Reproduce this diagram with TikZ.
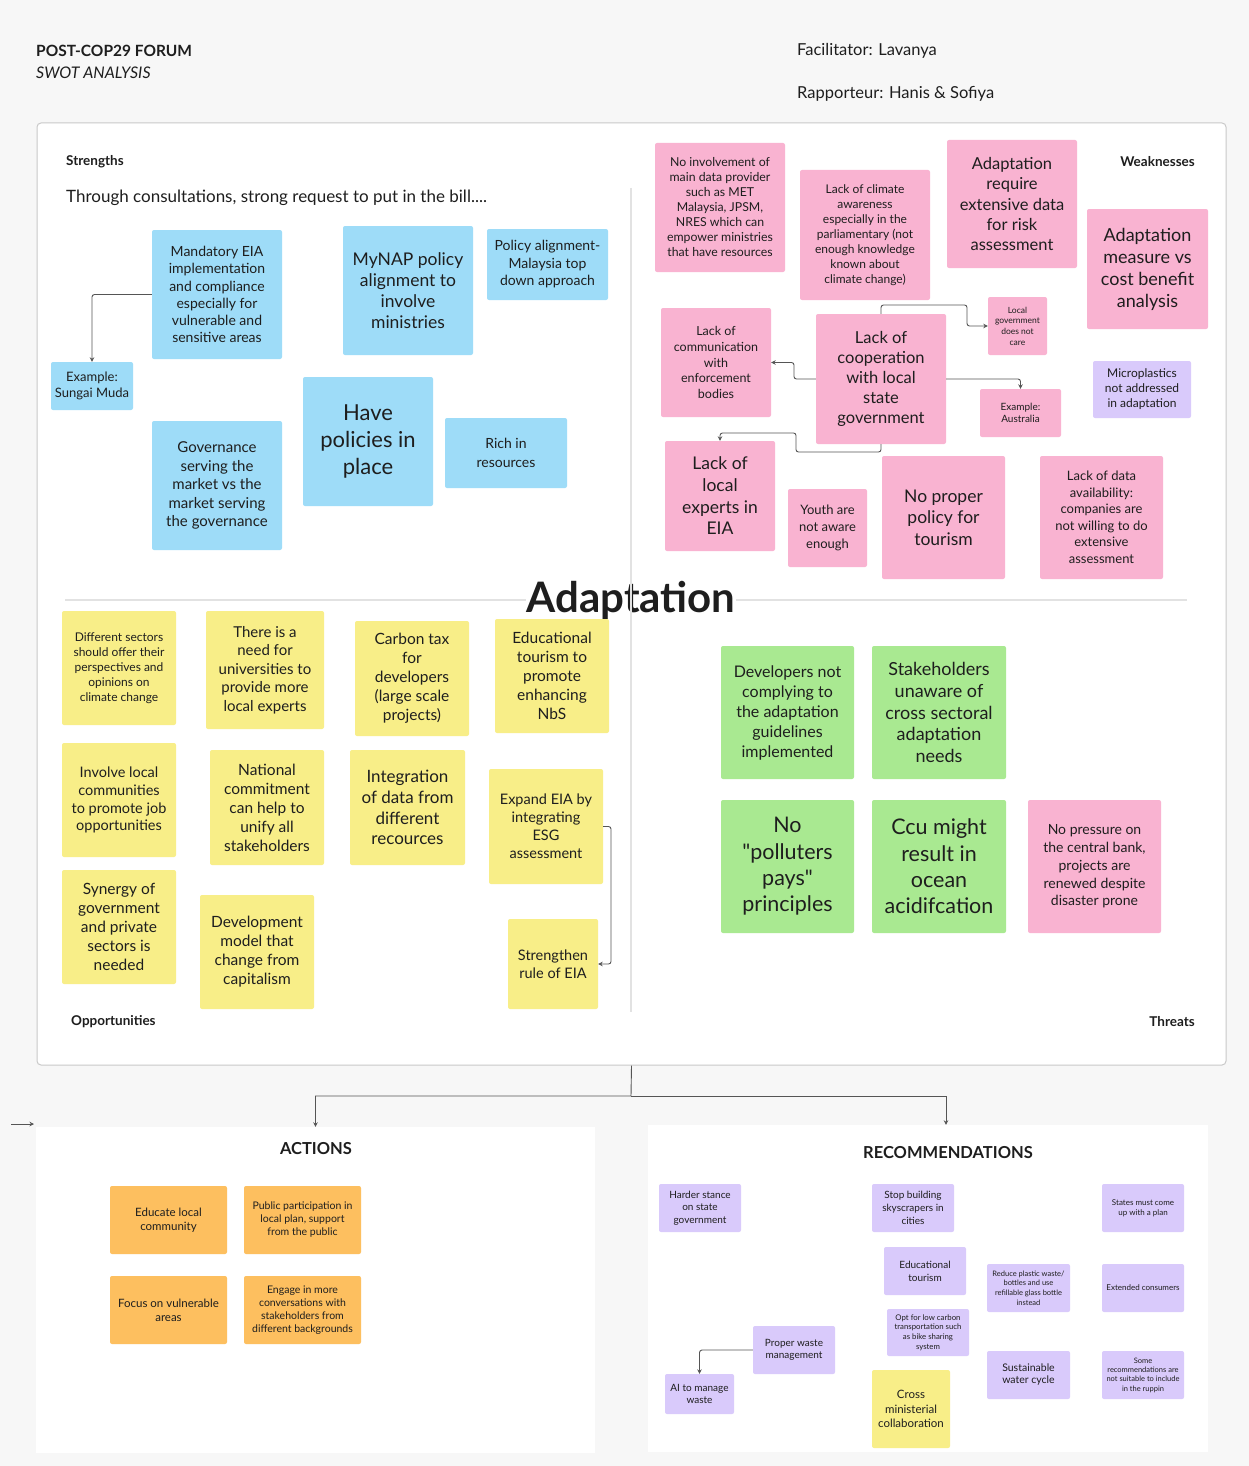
\documentclass[tikz,border=0pt]{standalone}
\usepackage{fontspec}
\setmainfont{Lato}
\newfontfamily\latoraw{Lato}
\usetikzlibrary{arrows.meta}
\definecolor{bgc}{HTML}{F7F7F7}
\definecolor{bluS}{HTML}{9EDCF8}
\definecolor{pnkS}{HTML}{F9B3D1}
\definecolor{yelS}{HTML}{F8EE88}
\definecolor{grnS}{HTML}{A9E991}
\definecolor{purS}{HTML}{D9CAFB}
\definecolor{orgS}{HTML}{FDBF5F}
\definecolor{txt}{HTML}{1E1E1E}
\definecolor{lnc}{HTML}{555555}
\definecolor{divc}{HTML}{E2E2E2}
\definecolor{frm}{HTML}{C9C9C9}
\newcommand\stk[9]{\node[stick,#2,minimum width={#5-#3},minimum height={#6-#4},font={\fontsize{#7}{#8}\selectfont}] (#1) at ({(#3+#5)/2},{(#4+#6)/2}) {#9};}
\tikzset{
  stick/.style={rectangle, rounded corners=2pt, inner sep=0pt, align=center, text=txt},
  blu/.style={fill=bluS},
  pnk/.style={fill=pnkS},
  yel/.style={fill=yelS},
  grn/.style={fill=grnS},
  pur/.style={fill=purS},
  org/.style={fill=orgS},
  panel/.style={fill=white, rounded corners=0pt},
  swotbox/.style={fill=white, draw=frm, line width=1pt, rounded corners=4pt},
  conn/.style={draw=lnc, line width=0.9pt, rounded corners=2.5pt, -{Stealth[length=4.5pt,width=4.5pt]}},
  divider/.style={draw=divc, line width=2pt},
  lbl/.style={inner sep=0pt, text=txt},
}
\begin{document}
\begin{tikzpicture}[x=1pt,y=-1pt]
\fill[bgc] (0,0) rectangle (1249,1466);
\useasboundingbox (0,0) rectangle (1249,1466);

% header
\node[lbl, anchor=west, font=\bfseries\fontsize{15.5}{18}\selectfont] (ttl) at (36,51) {POST-COP29 FORUM};
\node[lbl, anchor=west, font=\itshape\fontsize{16}{18}\selectfont] (sub) at (36,73) {SWOT ANALYSIS};
\node[lbl, anchor=west, font=\fontsize{16.5}{18}\selectfont] (fac) at (797,51) {Facilitator: Lavanya};
\node[lbl, anchor=west, font=\fontsize{16.5}{18}\selectfont] (rap) at (797,94) {Rapporteur: Hanis \& Sofiya};

% SWOT frame
\stk{swot}{swotbox}{37}{123}{1226}{1065}{10}{12}{}

% big title and dividers
\node[lbl, font=\bfseries\fontsize{42}{46}\selectfont] (adapt) at (631,600) {Adaptation};
\draw[divider] (631,188) -- (631,1012);
\draw[divider] (65,600) -- (adapt.west);
\draw[divider] (adapt.east) -- (1187,600);

% quadrant labels
\node[lbl, anchor=west, font=\bfseries\fontsize{13.5}{16}\selectfont] (lS) at (66,162) {Strengths};
\node[lbl, anchor=east, font=\bfseries\fontsize{13.5}{16}\selectfont] (lW) at (1195,162) {Weaknesses};
\node[lbl, anchor=west, font=\bfseries\fontsize{13.5}{16}\selectfont] (lO) at (71,1022) {Opportunities};
\node[lbl, anchor=east, font=\bfseries\fontsize{13.5}{16}\selectfont] (lT) at (1195,1022) {Threats};
\node[lbl, anchor=west, font=\fontsize{17}{20}\selectfont] (subS) at (66,198) {Through consultations, strong request to put in the bill....};

% Strengths
\stk{mand}{blu}{152}{230}{282}{359}{14}{17.2}{Mandatory EIA\\implementation\\and compliance\\especially for\\vulnerable and\\sensitive areas}
\stk{mynap}{blu}{343}{226}{473}{355}{17.5}{21}{MyNAP policy\\alignment to\\involve\\ministries}
\stk{palign}{blu}{487}{229}{608}{300}{14}{17.5}{Policy alignment-\\Malaysia top\\down approach}
\stk{exsm}{blu}{51}{362}{133}{410}{13}{15.7}{Example:\\Sungai Muda}
\stk{have}{blu}{303}{377}{433}{506}{22}{27}{Have\\policies in\\place}
\stk{rich}{blu}{445}{418}{567}{488}{14}{19}{Rich in\\resources}
\stk{gov}{blu}{152}{421}{282}{550}{15}{18.5}{Governance\\serving the\\market vs the\\market serving\\the governance}

% Weaknesses
\stk{noinv}{pnk}{655}{143}{785}{272}{12.3}{15}{No involvement of\\main data provider\\such as MET\\Malaysia, JPSM,\\NRES which can\\empower ministries\\that have resources}
\stk{lclim}{pnk}{800}{170}{930}{300}{12}{15.1}{Lack of climate\\awareness\\especially in the\\parliamentary (not\\enough knowledge\\known about\\climate change)}
\stk{adreq}{pnk}{947}{140}{1077}{268}{16.5}{20.3}{Adaptation\\require\\extensive data\\for risk\\assessment}
\stk{admeas}{pnk}{1087}{209}{1208}{329}{18}{22}{Adaptation\\measure vs\\cost benefit\\analysis}
\stk{lgov}{pnk}{988}{297}{1047}{355}{8.5}{10.7}{Local\\government\\does not\\care}
\stk{micro}{pur}{1093}{361}{1191}{418}{12}{15}{Microplastics\\not addressed\\in adaptation}
\stk{comm}{pnk}{661}{308}{771}{417}{12.5}{15.7}{Lack of\\communication\\with\\enforcement\\bodies}
\stk{coop}{pnk}{816}{314}{946}{444}{16.5}{20.2}{Lack of\\cooperation\\with local\\state\\government}
\stk{aus}{pnk}{980}{389}{1061}{437}{10}{12.7}{Example:\\Australia}
\stk{lexp}{pnk}{665}{441}{775}{551}{17.5}{21.7}{Lack of\\local\\experts in\\EIA}
\stk{youth}{pnk}{788}{489}{867}{567}{13}{16.7}{Youth are\\not aware\\enough}
\stk{tour}{pnk}{882}{456}{1005}{579}{17.5}{21.7}{No proper\\policy for\\tourism}
\stk{ldata}{pnk}{1040}{456}{1163}{579}{13}{16.5}{Lack of data\\availability:\\companies are\\not willing to do\\extensive\\assessment}

% Opportunities
\stk{diff}{yel}{62}{611}{176}{725}{12}{15}{Different sectors\\should offer their\\perspectives and\\opinions on\\climate change}
\stk{need}{yel}{206}{611}{324}{729}{15}{18.6}{There is a\\need for\\universities to\\provide more\\local experts}
\stk{ctax}{yel}{355}{621}{469}{736}{15.5}{19}{Carbon tax\\for\\developers\\(large scale\\projects)}
\stk{edut}{yel}{495}{619}{609}{733}{15.5}{19}{Educational\\tourism to\\promote\\enhancing\\NbS}
\stk{inv}{yel}{62}{743}{176}{857}{14.5}{17.9}{Involve local\\communities\\to promote job\\opportunities}
\stk{nat}{yel}{210}{750}{324}{865}{15.5}{19}{National\\commitment\\can help to\\unify all\\stakeholders}
\stk{integ}{yel}{350}{750}{465}{865}{17}{20.7}{Integration\\of data from\\different\\recources}
\stk{expand}{yel}{489}{769}{603}{884}{14.5}{18}{Expand EIA by\\integrating\\ESG\\assessment}
\stk{syn}{yel}{62}{870}{176}{984}{15.5}{19}{Synergy of\\government\\and private\\sectors is\\needed}
\stk{devm}{yel}{200}{895}{314}{1009}{15.5}{19}{Development\\model that\\change from\\capitalism}
\stk{stren}{yel}{508}{919}{598}{1009}{14.5}{17.7}{Strengthen\\rule of EIA}

% Threats
\stk{dev}{grn}{721}{646}{854}{779}{16}{20}{Developers not\\complying to\\the adaptation\\guidelines\\implemented}
\stk{stake}{grn}{872}{646}{1006}{779}{18}{21.8}{Stakeholders\\unaware of\\cross sectoral\\adaptation\\needs}
\stk{poll}{grn}{721}{800}{854}{933}{21.5}{26.3}{\latoraw No\\\latoraw "polluters\\\latoraw pays"\\\latoraw principles}
\stk{ccu}{grn}{872}{800}{1006}{933}{21.5}{26.3}{Ccu might\\result in\\ocean\\acidifcation}
\stk{press}{pnk}{1028}{800}{1161}{933}{14}{17.7}{No pressure on\\the central bank,\\projects are\\renewed despite\\disaster prone}

% connectors inside SWOT
\draw[conn] (mand.west) -| (exsm.north);
\draw[conn] (coop.north) |- (967,305) |- (lgov.west);
\draw[conn] (coop.west) -- (794,379) |- (comm.east);
\draw[conn] (coop.east) -| (aus.north);
\draw[conn] (coop.south) |- (796,452) |- (720,433) -- (lexp.north);
\draw[conn] (expand.east) -- (611,826.5) |- (stren.east);

% panels
\stk{act}{panel}{36}{1127}{595}{1453}{10}{12}{}
\stk{rec}{panel}{648}{1125}{1208}{1452}{10}{12}{}
\draw[conn, rounded corners=0pt] (swot.south) -- (631,1096) -| (act.north);
\draw[conn, rounded corners=0pt] (631,1096) -| (946,0 |- rec.north);
\coordinate (s1) at (11,1124);
\coordinate (s2) at (34,1124);
\draw[conn] (s1) -- (s2);

\node[lbl, font=\bfseries\fontsize{16.5}{18}\selectfont] (actT) at (316,1149) {ACTIONS};
\node[lbl, font=\bfseries\fontsize{16.5}{18}\selectfont] (recT) at (948,1153) {RECOMMENDATIONS};

% Actions
\stk{edu}{org}{110}{1186}{227}{1254}{11.5}{14.3}{Educate local\\community}
\stk{pub}{org}{244}{1186}{361}{1254}{10.5}{13}{Public participation in\\local plan, support\\from the public}
\stk{foc}{org}{110}{1276}{227}{1344}{11.5}{14.3}{Focus on vulnerable\\areas}
\stk{eng}{org}{244}{1276}{361}{1344}{10.5}{13}{Engage in more\\conversations with\\stakeholders from\\different backgrounds}

% Recommendations
\stk{hard}{pur}{659}{1184}{741}{1232}{10}{12.7}{Harder stance\\on state\\government}
\stk{sky}{pur}{872}{1184}{954}{1232}{10}{12.7}{Stop building\\skyscrapers in\\cities}
\stk{edtr}{pur}{884}{1247}{966}{1295}{10}{12.7}{Educational\\tourism}
\stk{opt}{pur}{887}{1309}{969}{1356}{7.8}{9.7}{Opt for low carbon\\transportation such\\as bike sharing\\system}
\stk{cross}{yel}{872}{1370}{950}{1448}{11.5}{14.3}{Cross\\ministerial\\collaboration}
\stk{pwm}{pur}{753}{1326}{835}{1374}{10}{12.3}{Proper waste\\management}
\stk{ai}{pur}{665}{1374}{734}{1414}{10}{11.7}{AI to manage\\waste}
\stk{states}{pur}{1102}{1184}{1184}{1232}{8}{10}{States must come\\up with a plan}
\stk{plast}{pur}{987}{1264}{1070}{1312}{7.5}{9.6}{Reduce plastic waste/\\bottles and use\\refillable glass bottle\\instead}
\stk{ext}{pur}{1102}{1264}{1184}{1312}{8}{10}{Extended consumers}
\stk{swc}{pur}{987}{1351}{1070}{1399}{10.5}{12}{Sustainable\\water cycle}
\stk{some}{pur}{1102}{1351}{1184}{1399}{7.5}{9.3}{Some\\recommendations are\\not suitable to include\\in the ruppin}
\draw[conn] (pwm.west) -| (ai.north);
\end{tikzpicture}
\end{document}
